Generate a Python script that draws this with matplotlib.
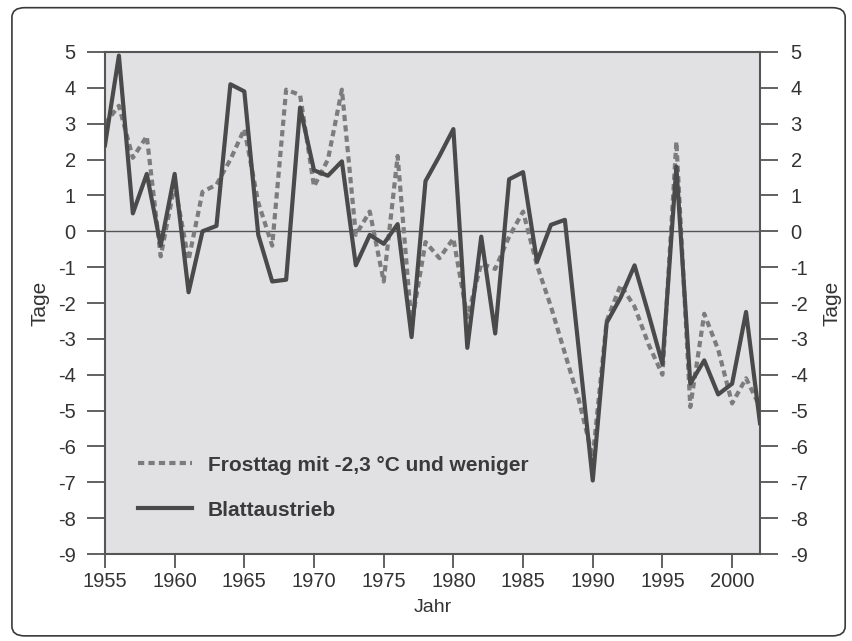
import numpy as np
import matplotlib
matplotlib.use("Agg")
import matplotlib.pyplot as plt
from matplotlib.patches import FancyBboxPatch

plt.rcParams['font.family'] = ['Liberation Sans', 'DejaVu Sans']
plt.rcParams['axes.unicode_minus'] = False

jahre = list(range(1955, 2003))

# Blattaustrieb (Abweichung in Tagen)
blattaustrieb = [2.4, 4.9, 0.5, 1.6, -0.4, 1.6, -1.7, 0.0, 0.15, 4.1,
                 3.9, -0.1, -1.4, -1.35, 3.45, 1.7, 1.55, 1.95, -0.95, -0.1,
                 -0.35, 0.2, -2.95, 1.4, 2.1, 2.85, -3.25, -0.15, -2.85, 1.45,
                 1.65, -0.85, 0.18, 0.32, -3.3, -6.95, -2.55, -1.85, -0.95, -2.3,
                 -3.7, 1.8, -4.25, -3.6, -4.55, -4.25, -2.25, -5.35]

# Frosttag mit -2,3 °C und weniger
frosttag = [3.0, 3.5, 2.05, 2.65, -0.7, 1.3, -0.8, 1.1, 1.3, 2.0,
            2.85, 0.8, -0.4, 3.95, 3.8, 1.25, 2.0, 3.95, -0.1, 0.55,
            -1.4, 2.1, -2.6, -0.3, -0.75, -0.2, -2.4, -0.9, -1.05, -0.15,
            0.55, -0.95, -2.1, -3.4, -4.7, -6.3, -2.5, -1.5, -2.1, -3.15,
            -4.0, 2.5, -4.9, -2.3, -3.3, -4.8, -4.1, -4.9]

yticks = list(range(-9, 6))
xticks = list(range(1955, 2001, 5))

fig = plt.figure(figsize=(8.52, 6.41), dpi=100)
fig.patches.append(FancyBboxPatch((0.014, 0.008), 0.978, 0.98,
                                  boxstyle="round,pad=0,rounding_size=0.015",
                                  transform=fig.transFigure, fill=False,
                                  edgecolor='#3a3a3a', linewidth=1.2))

ax = fig.add_axes([0.1232, 0.1357, 0.7688, 0.7832])
ax.set_facecolor('#e1e1e3')

ax.axhline(0, color='#555555', linewidth=1.0, zorder=1)
ax.plot(jahre, frosttag, color='#7c7c7c', linewidth=3.0,
        dashes=(1.5, 1.0), label='Frosttag mit -2,3 °C und weniger', zorder=2)
ax.plot(jahre, blattaustrieb, color='#4a4a4a', linewidth=3.0,
        label='Blattaustrieb', zorder=3)

ax.set_xlim(1955, 2002)
ax.set_ylim(-9, 5)
ax.set_xticks(xticks)
ax.set_yticks(yticks)

for sp in ax.spines.values():
    sp.set_color('#555555')
    sp.set_linewidth(1.5)

ax.tick_params(axis='y', direction='out', length=13, width=1.3, color='#555555',
               labelsize=14.5, pad=8, labelcolor='#333333')
ax.tick_params(axis='x', direction='out', length=10, width=1.3, color='#555555',
               labelsize=14.5, pad=3, labelcolor='#333333')

ax2 = ax.twinx()
ax2.set_ylim(-9, 5)
ax2.set_yticks(yticks)
ax2.tick_params(axis='y', direction='out', length=13, width=1.3, color='#555555',
                labelsize=14.5, pad=9, labelcolor='#333333')
for sp in ax2.spines.values():
    sp.set_visible(False)

ax.set_ylabel('Tage', fontsize=15, color='#333333', labelpad=6)
ax2.set_ylabel('Tage', fontsize=15, color='#333333', labelpad=10)
ax.set_xlabel('Jahr', fontsize=14, color='#333333', labelpad=6)

leg = ax.legend(loc='lower left', bbox_to_anchor=(0.022, 0.031), frameon=False,
                handlelength=2.6, handletextpad=0.75, labelspacing=1.25,
                prop={'weight': 'bold', 'size': 15})
for t in leg.get_texts():
    t.set_color('#3a3a3a')

fig.savefig('out.png', dpi=100, facecolor='white')
